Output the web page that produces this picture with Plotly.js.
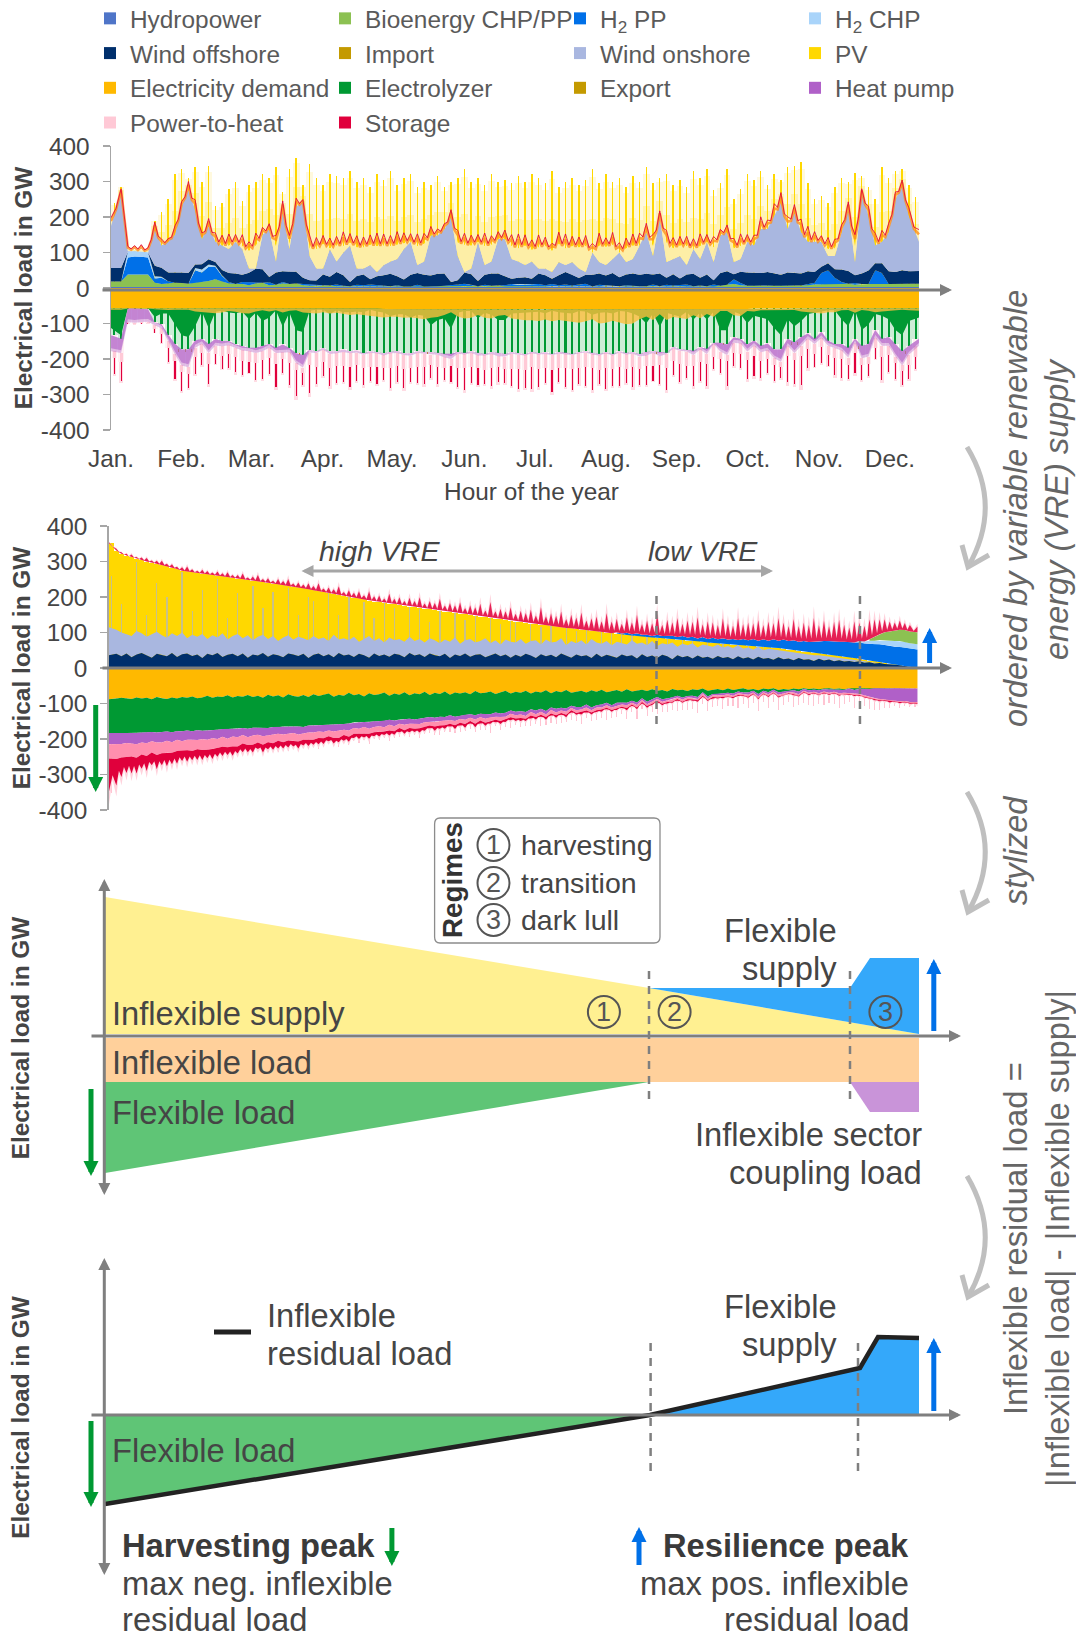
<!DOCTYPE html>
<html><head><meta charset="utf-8">
<script src="https://cdn.plot.ly/plotly-3.0.1.min.js"></script>
<style>html,body{margin:0;padding:0;background:#fff}#c{width:1076px;height:1637px}</style></head>
<body><div id="c"></div>
<script>
// ---------- tick labels ----------
const monthLabels=['Jan.','Feb.','Mar.','Apr.','May.','Jun.','Jul.','Aug.','Sep.','Oct.','Nov.','Dec.'];
const monthHours=[0,765,1523,2293,3046,3831,4597,5367,6136,6906,7676,8445];
const loadTicks=[400,300,200,100,0,-100,-200,-300,-400];
const loadTickText=['400','300','200','100','0','-100','-200','-300','-400'];
// ---------- panel 1: hour of the year, GW ----------
const hydro1=[3,3,2,3,3,3,3,3,3,3,4,4,4,3,3,3,3,3,3,3,3,3,3,3];
const bio1=[15,15,35,36,35,35,12,8,10,12,12,10,14,16,18,22,15,10,8,8,5,10,12,5,6,10,8,10,5,3,2,3,4,2,3,2,1,2,1,1,1,2,2,1,1,2,1,2,2,3,3,1,1,2,1,1,2,2,1,1,1,1,1,0,1,0,1,1,1,0,1,1,1,0,1,2,1,1,2,2,1,2,1,1,2,1,2,1,2,1,3,6,8,5,3,4,3,4,3,4,3,4,4,5,7,9,9,8,8,9,6,8,8,9,9,8,8,9,9,9];
const h2pp1=[0,0,48,50,50,48,12,18,6,0,0,0,34,26,40,34,16,4,0,6,10,3,0,8,0,4,0,0,3,6,4,2,0,5,0,0,5,3,6,4,2,0,3,0,0,4,0,0,0,0,0,5,7,3,0,4,0,0,3,6,4,5,6,7,3,8,4,6,3,7,8,0,5,4,3,0,4,3,0,0,6,0,5,3,4,6,0,3,0,6,0,0,14,6,0,0,0,0,0,0,0,0,0,2,5,30,38,18,6,0,5,0,0,38,30,0,0,0,0,0];
const h2chp1=[0,0,16,15,15,15,6,3,0,0,0,0,6,8,6,4,2];
const off1=[38,38,0,0,0,0,30,25,25,30,30,30,10,15,15,10,15,25,30,20,25,38,38,15,35,30,35,33,18,10,12,30,25,35,30,12,25,30,15,25,30,35,25,20,33,33,33,30,35,35,10,12,32,30,15,28,35,35,25,15,20,20,15,30,28,15,28,35,30,18,25,33,32,28,35,25,30,34,32,35,28,36,20,32,18,28,35,22,33,12,36,38,14,32,38,35,36,38,36,30,38,36,34,37,30,18,20,24,35,36,22,30,38,20,28,36,34,38,35,36];
const windTop1=[175,268,105,100,100,98,165,120,130,150,230,277,220,138,175,130,120,110,130,110,55,55,150,165,75,220,110,230,240,90,55,55,110,75,100,120,55,55,65,45,65,75,82,110,130,65,75,148,148,165,200,90,45,55,130,65,75,138,138,82,75,65,75,55,55,45,73,65,73,55,45,100,73,65,82,100,73,82,120,157,90,200,73,82,90,65,110,82,130,73,148,157,73,82,130,120,166,166,203,240,166,212,157,130,130,130,90,90,157,222,73,268,203,120,130,157,250,287,203,130];
const nightTop1=[0,0,108,108,106,104,125,112,118,0,0,0,125,120,112,118,110,120,105,118,105,120,0,0,118,0,125,0,0,112,110,125,112,120,118,128,115,115,122,118,120,118,122,128,0,118,125,0,0,0,0,128,122,120,0,118,122,0,0,118,112,120,108,115,118,105,125,112,118,115,118,0,120,116,122,0,112,120,0,0,118,0,128,112,120,118,0,118,0,115,0,0,112,118,0,0,0,0,0,0,0,0,0,0,0,0,110,112,0,0,118,0,0,0,0,0,0,0,0,0];
const stor1=[20,10,8,10,14,8,18,16,8,22,12,20,25,15,18,22,25,28,18,28,22,30,18,14,26,22,20,20,8,30,28,20,25,22,35,22,28,25,24,32,28,26,32,24,20,30,25,22,16,14,18,30,28,25,18,32,22,18,22,28,35,26,24,30,22,18,28,35,24,25,26,22,30,22,30,24,25,28,30,22,28,15,30,26,22,24,25,30,18,26,15,18,24,30,18,25,30,22,30,25,30,20,32,38,25,15,28,22,18,18,28,10,24,30,28,22,18,15,20,30];
const pvPeak1=[240,285,0,0,0,0,190,215,250,320,335,310,340,300,345,230,240,280,300,245,290,300,320,310,340,270,335,365,290,350,310,290,320,315,310,330,300,310,285,320,305,330,290,310,320,285,300,290,315,285,300,310,335,300,310,290,320,300,305,295,315,300,320,310,295,330,285,300,310,290,305,335,295,320,300,310,285,315,300,340,295,310,320,290,305,285,330,310,335,275,295,335,250,280,320,305,330,290,320,305,340,345,355,295,250,260,240,285,310,300,325,315,285,250,340,310,330,335,290,255];
const importCols1=[14,23,29,44,58,70,78,92,104,106,113];
const import1=[4,3,3,2,4,3,3,5,4,5,4];
const dem1=[58,57,58,59,58,59,58,58,59,60,60,60,61,60,60,60,60,59,59,58,58,58,58,58];
const fringe1=[3,3,0,0,0,0,3,5,5,4,3,3,8,10,10,12,10,6,8,12,14,8,5,8,5,10,5,4,10,12,14,10,14,12,16,18,16,18,20,22,24,22,22,25,24,25,28,24,22,16,8,20,26,24,16,24,26,18,16,26,28,30,30,32,28,34,30,32,36,38,34,28,40,38,32,38,42,40,28,20,30,14,30,22,24,28,18,26,14,22,6,6,18,20,6,8,5,5,4,4,6,4,8,10,12,14,10,10,5,4,12,4,6,10,8,6,4,3,5,6];
const elSolid1=[55,75,0,0,0,0,25,15,15,45,75,80,50,8,55,8,5,10,12,8,30,12,35,25,5,50,10,60,65,5,3,3,15,5,10,10,8,10,3,8,10,20,15,15,25,15,18,45,30,25,55,10,5,5,25,10,15,30,30,12,10,8,8,6,10,4,8,10,12,5,6,15,10,8,12,5,6,12,20,40,12,50,10,15,20,8,30,10,30,8,60,60,8,15,40,20,25,30,55,75,30,50,35,15,12,8,5,5,30,50,5,60,45,15,20,30,60,75,35,25];
const elDay1=[75,85,0,0,0,3,40,45,75,100,115,115,90,85,100,85,90,90,100,105,110,110,105,100,110,100,110,125,130,115,120,110,120,120,115,120,118,125,120,122,125,120,118,125,125,118,120,120,122,125,125,120,122,118,122,125,120,122,125,120,122,125,118,122,120,125,120,122,125,120,118,122,125,120,125,118,122,120,125,120,118,120,122,105,112,115,118,108,112,95,95,100,80,85,100,90,105,98,115,115,85,95,80,70,85,65,90,100,100,110,85,105,100,60,85,80,100,120,105,85];
const exportCols1=[9,10,11,27,28,47,50,81,90,91,99,101,111,117];
const export1=[6,8,7,6,8,6,7,6,7,8,8,7,8,7];
const hp1=[45,40,38,40,38,35,8,12,18,30,45,50,20,15,25,18,15,12,10,12,10,15,15,10,15,22,12,28,35,8,5,6,8,6,7,6,6,5,5,4,6,5,6,5,7,5,5,8,6,10,15,5,5,5,8,5,6,10,8,5,5,4,5,4,5,4,5,5,4,4,4,5,5,4,5,4,5,5,8,10,5,12,4,6,5,5,12,6,15,4,25,30,15,12,20,15,18,20,25,35,20,30,25,15,15,18,15,12,18,28,12,35,35,22,20,25,35,40,25,20];
const p2h1=[20,25,3,3,3,3,10,15,20,20,18,20,25,25,30,25,28,25,25,30,30,28,25,30,30,20,30,18,15,35,40,35,38,35,40,38,35,38,40,38,35,40,38,40,35,40,38,30,35,30,20,40,38,40,35,40,38,30,35,42,40,42,38,40,38,42,40,38,40,42,40,38,40,42,38,40,42,38,35,30,38,25,40,35,38,40,30,35,28,35,20,18,30,30,25,28,25,25,20,15,28,20,28,30,28,25,25,28,25,20,28,18,20,28,30,25,18,15,28,30];
const st1=[50,60,3,2,2,2,12,30,45,55,60,45,55,40,65,30,40,45,50,45,35,55,60,50,75,45,70,85,40,90,55,45,60,55,50,65,50,55,45,55,40,65,50,60,45,50,55,40,55,40,50,60,70,50,55,45,60,50,45,55,65,55,70,60,50,70,45,60,65,50,60,70,45,65,55,60,45,65,50,60,45,60,70,45,55,40,65,60,70,40,45,80,40,45,60,65,55,45,50,35,85,75,95,60,40,50,35,55,60,45,65,50,40,35,75,55,50,45,45,40];
// ---------- panel 2: hours ordered by VRE supply, GW ----------
const vre2=[352,331,322,316,312,308,304,300,297,294,290,287,283,279,274,272,270,268,266,264,262,260,258,256,254,252,250,248,246,244,242,240,238,236,234,231,229,227,225,222,219,217,214,211,209,206,203,201,198,196,193,190,187,185,183,181,179,177,175,173,171,169,167,165,163,161,159,157,155,153,151,149,147,145,143,141,139,137,135,133,131,129,127,125,124,122,120,118,117,115,113,112,110,108,107,105,103,102,100,98,97,95,93,92,90,89,87,86,85,84,82,81,80,79,77,76,75,74,72,71,70,69,68,66,65,64,63,62,60,59,58,57,56,54,52,50,48,46,45,43,41,40,38,36,34,32,30,28,26,23,21,19,17,15,12,10,8,6,3,0];
const off2=[36,40,33,41,30,38,42,35,29,40,37,33,42,31,39,41,34,38,28,40,36,42,31,37,40,33,41,29,38,35,42,32,39,36,30,41,38,34,40,28,37,41,33,39,30,42,35,38,31,40,36,29,41,34,38,32,40,37,30,42,35,39,31,41,36,33,40,28,38,34,41,32,37,39,30,36,41,33,38,29,37,32,40,35,28,39,33,37,30,41,35,29,38,33,36,28,40,31,37,34,29,38,33,36,27,39,31,35,28,37,33,25,36,30,34,27,35,29,32,26,34,28,31,25,33,27,30,24,32,26,28,23,30,25,27,22,28,23,25,20,26,21,24,19,22,18,20,17,19,15,16,13,14,11,11,9,8,6,4,0];
const onTop2=[115,108,100,96,90,104,98,88,95,102,92,85,98,90,100,84,94,88,96,82,92,86,98,80,90,96,84,92,78,88,94,82,90,76,86,92,80,88,84,78,90,82,86,76,94,80,84,78,88,74,82,90,76,84,72,86,78,82,74,88,76,82,72,84,78,70,80,74,86,68,78,82,72,76,84,70,78,66,80,74,72,82,68,76,78,66,80,72,74,84,64,76,70,78,66,82,72,68,76,64,74,70,66,78,68,72,64,76,62,70,66,72,60,68,64,70,58,66,62,60,66,58,62,56,64,55,58,52,60,50,54,52,50,47,46,44,42,40,38,36,36,34,32,30,28,26,24,22,20,18,16,14,12,10,8,6,5,3,2,0];
const onSpike2=[260,0,180,0,0,300,0,150,0,240,0,200,0,0,270,0,160,0,220,0,0,250,0,140,0,210,0,0,230,0,170,0,215,0,0,225,0,150,0,200,190,0,0,210,0,150,0,200,0,0,185,0,140,0,190,0,170,0,0,175,0,165,0,130,0,170,0,0,160,0,135,0,155,0,0,150,0,125,0,145,130,0,0,135,0,115,0,125,0,0,120,0,105,0,115,0,0,110,0,100,0,105,0,95,0,0,100,0,85,0,90,0,0,85,0,80,0,0,78,0,0,72,0,0,66,0,62,0,0,58];
const stor2=[3,5,4,6,8,5,7,10,6,8,12,7,9,6,10,14,8,6,11,9,7,12,9,14,8,10,16,7,12,18,9,13,8,15,11,20,9,14,10,17,12,22,10,16,13,24,11,18,14,20,12,26,15,19,13,28,16,22,14,25,18,30,15,24,20,34,17,26,22,32,18,28,24,36,19,45,21,30,25,38,22,32,28,40,24,50,26,36,30,44,25,38,32,48,27,35,42,30,55,33,38,28,44,34,52,30,40,36,58,32,46,38,54,35,48,42,60,36,50,44,40,56,46,38,62,42,50,44,58,40,54,46,64,48,42,60,44,52,48,66,46,58,42,54,62,48,40,60,52,44,56,50,42,36,28,22,26,20,18,16];
const h2pp2=[4,2,6,3,8,5,7,4,9,6,8,10,7,11,9,12,8,13,10,14,11,15,12,16,14,18,15,20,17,22,19,24,21,26,24,28,26,30,28,32,34,36,38,40,40,42,44,44,46,46,48,48,50,50,50,50,52,52,52,52];
const h2chp2=[4,6,8,10,12,14,15,16,16,16,15,15];
const bio2=[4,10,16,22,26,30,32,33,33,34];
const dem2=[88,86,84,85,87,83,86,84,88,82,85,87,83,86,82,84,80,85,83,78,84,80,82,77,83,79,81,76,82,78,84,75,80,77,83,74,79,81,76,82,74,79,76,72,81,75,78,70,77,73,80,71,76,74,69,78,72,75,68,77,71,74,67,76,70,73,66,75,69,72,68,74,65,71,70,66,73,68,64,72,67,70,64,72,66,69,63,71,65,68,62,70,66,64,69,63,67,61,68,65,62,67,60,66,63,61,65,60,64,62,66,59,63,61,65,60,62,58,64,61,59,63,58,62,60,57,61,59,63,58,60,57,62,59,61,58,60,57,59,58,60,58,57,59,58,60,57,59,58,57,59,57,58,57,58,57,58,57,58,58];
const el2=[95,98,100,98,96,100,96,98,92,100,95,92,98,92,96,92,98,90,94,98,90,94,90,96,88,92,88,95,86,90,84,94,86,90,82,92,86,84,90,80,88,82,84,88,78,84,80,86,76,80,72,82,74,76,80,68,76,70,76,66,74,68,74,62,70,64,72,58,68,62,64,56,68,58,60,64,52,60,62,48,56,52,60,44,54,46,58,40,50,44,52,36,44,46,34,48,38,42,30,40,36,30,38,26,34,24,30,28,18,26,20,24,15,22,14,18,20,10,16,12,14,8,12,10,6,12,8,5,10,6,8,4,6,8,3,5,6,2,4,3,3,2,4,1,3,2,1,3,1,2,0,0,0,0,0,0,0,0,0,0];
const hp2=[32,30,30,28,30,32,28,30,26,28,30,26,28,24,28,26,24,28,24,26,24,26,22,26,22,24,20,24,22,20,24,20,22,18,22,20,18,22,18,20,20,18,20,16,20,18,16,20,16,18,14,18,16,14,18,14,16,12,16,14,12,16,12,14,12,14,10,14,12,10,14,10,12,10,13,9,12,10,11,9,10,9,11,8,10,8,10,7,10,8,9,7,9,7,8,8,6,8,7,6,8,6,7,6,7,5,7,6,5,7,5,6,5,6,4,6,5,4,6,4,5,6,4,6,5,4,6,5,7,4,6,5,7,5,4,6,8,5,7,6,8,6,9,7,10,8,12,10,14,18,22,28,30,32,34,35,36,36,38,38];
const p2h2=[40,42,38,40,36,38,34,36,32,35,30,34,30,32,28,30,32,26,30,28,30,26,28,24,28,26,24,22,26,22,24,20,24,20,22,18,22,20,18,20,20,18,18,16,18,20,15,18,16,14,18,14,15,16,12,16,14,12,15,12,14,12,14,10,13,11,13,10,12,10,12,9,12,9,11,10,9,11,8,10,9,10,8,10,8,9,7,10,8,7,9,6,8,7,9,6,8,6,7,7,7,6,8,5,7,6,5,7,5,6,5,6,4,6,5,5,4,6,4,5,5,4,6,4,5,4,6,3,5,4,5,3,5,4,3,5,4,3,4,3,4,3,4,3,4,3,3,4,3,4,3,3,3,2,2,2,2,2,2,2];
const st2=[95,75,55,45,48,44,40,42,36,40,34,38,32,36,28,32,26,30,28,24,28,24,26,22,26,20,24,20,22,18,22,20,18,22,18,20,16,20,16,18,14,18,16,14,16,12,16,14,12,15,12,14,11,13,10,14,10,12,10,12,9,12,10,8,12,9,10,8,11,8,10,7,10,8,9,8,7,9,7,8,7,8,6,8,7,5,8,6,7,5,7,6,5,7,5,6,5,6,4,5,5,4,6,3,5,4,5,3,5,4,4,3,5,3,4,3,4,3,3,4,3,4,2,3,3,2,3,2,3,2,3,2,3,2,2,3,2,2,3,2,2,3,2,2,3,2,2,3,2,2,2,3,3,2,3,2,3,2,3,3];
const regimeHours2=[5933,8137];
// ---------- panel 3: stylized regimes ----------
const supplyX3=[0,544,814,0], supplyY3=[139,48,2,2];
const flexSupplyX3=[544,745,765,814,814,544], flexSupplyY3=[48,48,78,78,2,48];
const inflexLoadX3=[0,814,814,0], inflexLoadY3=[-2,-2,-46,-46];
const flexLoadX3=[0,544,0], flexLoadY3=[-46,-46,-137];
const couplingX3=[745,814,814,765], couplingY3=[-46,-46,-76,-76];
const regimeX3=[544,745];
// ---------- panel 4: inflexible residual load ----------
const flexLoadX4=[0,545,0], flexLoadY4=[0,0,-88];
const flexSupplyX4=[545,755,773,814,814], flexSupplyY4=[0,46,77,77,0];
const residualX4=[0,545,755,773,814], residualY4=[-89,0,47,78,77];
const regimeX4=[545.6,753];

const W=1076,H=1637,FONT='Liberation Sans',TXT='#454545',GRAY='#7F7F7F';
const C={hydro:'#4F75C8',bio:'#8CC152',h2pp:'#0070E8',chp:'#A9D4FA',off:'#002F6C',imp:'#C49A00',on:'#A9B7E0',pv:'#FFD800',dem:'#FFB900',el:'#009933',exp:'#C49A00',hp:'#B060C8',p2h:'#FFC9D6',st:'#E0003C',green:'#009933',blue:'#0070E8'};
const X=p=>p/W,Y=p=>1-p/H;
const colH1=8760/windTop1.length,colH2=8760/vre2.length;
const axn=n=>n>1?n:'';
const bar=(n,x,y,base,width,color,name,show)=>({type:'bar',xaxis:'x'+axn(n),yaxis:'y'+axn(n),x,y,base,width,name:name||'',showlegend:!!show,hoverinfo:'skip',marker:{color,line:{width:0}}});
const xs1=windTop1.map((_,i)=>(i+.5)*colH1),xs2=vre2.map((_,i)=>(i+.5)*colH2);
const edge=(xs,first,last)=>xs.map((v,i)=>i===0?first:(i===xs.length-1?last:v));
const xe1=edge(xs1,0,8760),xe2=edge(xs2,0,8760);
const area=(n,x,lo,hi,color)=>({type:'scatter',mode:'lines',xaxis:'x'+axn(n),yaxis:'y'+axn(n),x:x.concat(x.slice().reverse()),y:hi.concat(lo.slice().reverse()),fill:'toself',fillcolor:color,line:{width:0},showlegend:false,hoverinfo:'skip'});
const line=(n,x,y,color,width)=>({type:'scatter',mode:'lines',xaxis:'x'+axn(n),yaxis:'y'+axn(n),x,y,line:{color,width},showlegend:false,hoverinfo:'skip'});
// daily sawtooth: each column peaks at its value and falls back to the level it sits on
const zig=(xs,low,top)=>{const x=[],y=[];xs.forEach((v,i)=>{x.push(v);y.push(top[i]);if(i<xs.length-1){x.push((v+xs[i+1])/2);y.push((low[i]+low[i+1])/2);}});return {x,y};};
const zigLine=(n,xs,low,top,color,width)=>{const z=zig(xs,low,top);return line(n,z.x,z.y,color,width);};
const zigArea=(n,xs,floor,low,top,color)=>{const z=zig(xs,low,top);return {type:'scatter',mode:'lines',xaxis:'x'+axn(n),yaxis:'y'+axn(n),x:z.x.concat(xs.slice().reverse()),y:z.y.concat(floor.slice().reverse()),fill:'toself',fillcolor:color,line:{width:0},showlegend:false,hoverinfo:'skip'};};
const neg=a=>a.map(v=>-v);
const scale=(a,k)=>a.map(v=>v*k);
const zeros=xs1.map(()=>0);
const traces=[];
const hy1c=xs1.map((_,i)=>hydro1[Math.floor(i/5)]);
const plus=(a,b)=>a.map((v,i)=>v+(b[i]||0));
const cBio=plus(hy1c,bio1),cH2=plus(cBio,h2pp1),cChp=plus(cH2,h2chp1),cOff=plus(cChp,off1);
const onTop1=windTop1.map((t,i)=>Math.max(t,cOff[i]));
const lowTop=windTop1.map((t,i)=>Math.max(t,nightTop1[i],cOff[i]));
const demC=xs1.map((_,i)=>dem1[Math.floor(i/5)]);
const b1=plus(demC,elDay1),b2=plus(b1,hp1),b3=plus(b2,p2h1);
const tiny=1;
// panel 1: legend order, with areas drawn on top
traces.push(bar(1,xs1,hy1c,zeros,tiny,C.hydro,'Hydropower',true));
traces.push(bar(1,xs1,bio1,hy1c,tiny,C.bio,'Bioenergy CHP/PP',true));
traces.push(bar(1,xs1,h2pp1,cBio,tiny,C.h2pp,'H<sub>2</sub> PP',true));
traces.push(bar(1,xs1.slice(0,h2chp1.length),h2chp1,cH2,tiny,C.chp,'H<sub>2</sub> CHP',true));
traces.push(bar(1,xs1,off1,cChp,tiny,C.off,'Wind offshore',true));
traces.push(bar(1,importCols1.map(i=>xs1[i]),import1,importCols1.map(i=>cOff[i]),colH1*.6,C.imp,'Import',true));
traces.push(bar(1,xs1,onTop1.map((t,i)=>t-cOff[i]),cOff,tiny,C.on,'Wind onshore',true));
traces.push(bar(1,xs1,pvPeak1.map((p,i)=>p?lowTop[i]+(p-lowTop[i])*.9:0),zeros,colH1,'#FFF9DE'));
traces.push(bar(1,xs1,pvPeak1.map((p,i)=>p?lowTop[i]+(p-lowTop[i])*.4:0),zeros,colH1,'#FFF3B4'));
traces.push(bar(1,xs1,pvPeak1,zeros,colH1*.22,C.pv,'PV',true));
traces.push(bar(1,xs1,neg(demC),zeros,tiny,C.dem,'Electricity demand',true));
traces.push(bar(1,xs1,neg(b1),zeros,colH1,'rgba(130,210,155,.4)'));
traces.push(bar(1,xs1,neg(b1),zeros,colH1*.3,C.el,'Electrolyzer',true));
traces.push(bar(1,exportCols1.map(i=>xs1[i]),neg(export1),exportCols1.map(i=>-b1[i]),colH1,C.exp,'Export',true));
traces.push(bar(1,xs1,neg(hp1),neg(b1),tiny,C.hp,'Heat pump',true));
traces.push(bar(1,xs1,neg(plus(hp1,p2h1)),neg(b1),colH1*.85,'#FFF0F3'));
traces.push(bar(1,xs1,neg(p2h1),neg(b2),colH1*.45,C.p2h,'Power-to-heat',true));
traces.push(bar(1,xs1,neg(st1),neg(b3),colH1*.5,'#FFDCE4'));
traces.push(bar(1,xs1,scale(neg(st1),.88),neg(b3),colH1*.16,C.st,'Storage',true));
traces.push(area(1,xe1,zeros,hy1c,C.hydro),area(1,xe1,hy1c,cBio,C.bio),area(1,xe1,cBio,cH2,C.h2pp),area(1,xe1,cH2,cChp,C.chp),area(1,xe1,cChp,cOff,C.off),area(1,xe1,cOff,onTop1,C.on));
traces.push(area(1,xe1,onTop1,lowTop,'#FDEEA6'));
traces.push(zigLine(1,xe1,lowTop,plus(lowTop,scale(stor1,.7)),'rgba(255,140,25,.78)',2.6));
traces.push(zigLine(1,xe1,plus(lowTop,scale(stor1,.2)),plus(lowTop,scale(stor1,1.15)),'rgba(224,0,60,.85)',1));
traces.push(area(1,xe1,zeros,neg(demC),C.dem));
traces.push(area(1,xe1,neg(demC),neg(plus(demC,elSolid1)),C.el));
traces.push(area(1,xe1,neg(demC),neg(plus(demC,fringe1)),'rgba(255,190,60,.8)'));
traces.push(area(1,xe1,neg(b1),neg(b2),'rgba(176,96,200,.38)'));
traces.push(area(1,xe1,neg(b1),neg(plus(b1,hp1.map(v=>Math.max(0,v-8)))),'rgba(176,96,200,.6)'));
// panel 2
const offC2=off2.map((v,i)=>Math.min(v,vre2[i]));
const onC2=onTop2.map((v,i)=>Math.min(v,vre2[i]));
const z2=xs2.map(()=>0);
const n1=dem2,n2=plus(n1,el2),n3=plus(n2,hp2),n4=plus(n3,p2h2),n5=plus(n4,st2);
traces.push(bar(2,xs2,vre2,z2,colH2,C.pv));
traces.push(bar(2,onSpike2.map((_,i)=>xs2[i]),onSpike2.map((v,i)=>Math.min(v,vre2[i])),z2.slice(0,onSpike2.length),colH2*.26,'rgba(170,182,210,.65)'));
traces.push(bar(2,xs2,n5.map((v,i)=>-(v+stor2[i]*.55)),z2,colH2*.22,'#FFC4D2'));
traces.push(area(2,xe2,offC2,onC2,C.on),area(2,xe2,z2,offC2,C.off));
const sup2=vre2.slice();
const stackSlice=(arr,color)=>{const st=vre2.length-arr.length;const x=xe2.slice(st);const base=arr.map((_,i)=>sup2[st+i]);arr.forEach((v,i)=>sup2[st+i]+=v);const top=arr.map((_,i)=>sup2[st+i]);traces.push(area(2,x,base,top,color));};
stackSlice(h2pp2,C.h2pp);stackSlice(h2chp2,C.chp);stackSlice(bio2,C.bio);
traces.push(zigArea(2,xe2,sup2,plus(sup2,scale(stor2,.3)),plus(sup2,scale(stor2,1.5)),'#FFD2DC'));
traces.push(zigArea(2,xe2,sup2,plus(sup2,scale(stor2,.15)),plus(sup2,stor2),'rgba(224,0,60,.85)'));
traces.push(area(2,xe2,z2,neg(n1),C.dem),area(2,xe2,neg(n1),neg(n2),C.el),area(2,xe2,neg(n2),neg(n3),C.hp),area(2,xe2,neg(n3),neg(n4),'#FF8FAE'));
traces.push(zigArea(2,xe2,neg(n4),neg(plus(n4,scale(st2,.7))),n4.map((v,i)=>-(v+st2[i]*1.35+5)),'#FFD2DC'));
traces.push(zigArea(2,xe2,neg(n4),neg(plus(n4,scale(st2,.55))),neg(n5),C.st));
// panels 3 and 4
const poly=(n,x,y,color)=>({type:'scatter',mode:'lines',xaxis:'x'+n,yaxis:'y'+n,x,y,fill:'toself',fillcolor:color,line:{width:0},showlegend:false,hoverinfo:'skip'});
traces.push(poly(3,supplyX3,supplyY3,'#FFF091'),poly(3,flexSupplyX3,flexSupplyY3,'#34A8FA'),poly(3,inflexLoadX3,inflexLoadY3,'#FFD09B'),poly(3,flexLoadX3,flexLoadY3,'#5FC576'),poly(3,couplingX3,couplingY3,'#C994D9'));
traces.push(poly(4,flexLoadX4,flexLoadY4,'#5FC576'),poly(4,flexSupplyX4,flexSupplyY4,'#34A8FA'));
traces.push(line(4,residualX4,residualY4,'#222222',4.5));

// layout helpers
const dom=(a,b)=>[1-b/H,1-a/H];
const tf=(s,c)=>({family:FONT,size:s,color:c||TXT});
const loadAxis=(n,top,bot,standoff)=>({domain:dom(top,bot),range:[-400,400],anchor:'x'+axn(n),tickmode:'array',tickvals:loadTicks,ticktext:loadTickText,ticks:'outside',ticklen:7,tickcolor:'#A6A6A6',tickwidth:1.5,ticklabelstandoff:8,tickfont:tf(24.4),showgrid:false,zeroline:false,showline:true,linecolor:'#A6A6A6',linewidth:1.5,title:{text:'<b>Electrical load in GW</b>',font:tf(24.4),standoff}});
const plainAxis=(n,top,bot,range,standoff)=>({domain:dom(top,bot),range,anchor:'x'+n,showgrid:false,zeroline:false,showline:false,ticks:'',showticklabels:false,title:{text:'<b>Electrical load in GW</b>',font:tf(24.4),standoff}});
const plainX=(n,l,r,range)=>({domain:[X(l),X(r)],range,anchor:'y'+n,showgrid:false,zeroline:false,showline:false,ticks:'',showticklabels:false});
const ann=[];
const T=(text,x,y,size,o={})=>ann.push({text,x:X(x),y:Y(y),xref:'paper',yref:'paper',showarrow:false,xanchor:o.a||'left',yanchor:'middle',textangle:o.r||0,font:{family:FONT,size,color:o.c||TXT}});
const arrow=(x0,y0,x1,y1,color,w,size,both)=>ann.push({x:X(x1),y:Y(y1),xref:'paper',yref:'paper',ax:x0-x1,ay:y0-y1,axref:'pixel',ayref:'pixel',font:{size:1},showarrow:true,arrowhead:2,startarrowhead:2,arrowside:both?'end+start':'end',arrowsize:size,startarrowsize:size,arrowwidth:w,arrowcolor:color,standoff:0,startstandoff:0});
arrow(101,290,952,290,GRAY,3,.8);
arrow(101,668,952,668,GRAY,3,.8);
arrow(90,1036,961,1036,GRAY,3,.8);
arrow(104.3,1197,104.3,879,GRAY,3,.8,true);
arrow(90,1415,961,1415,GRAY,3,.8);
arrow(104.3,1577,104.3,1258,GRAY,3,.8,true);
arrow(300,571,773,571,'#A6A6A6',3,.8,true);
arrow(95.7,703,95.7,792,C.green,5,.6);arrow(929.6,665,929.6,628,C.blue,5,.6);
arrow(91,1087,91,1176,C.green,5,.6);arrow(933.8,1033,933.8,959,C.blue,5,.6);
arrow(91,1419,91,1507,C.green,5,.6);arrow(933.8,1413,933.8,1338,C.blue,5,.6);
arrow(391.9,1526,391.9,1566,C.green,5,.6);arrow(639,1567,639,1527,C.blue,5,.6);
const BIG=32.7;
T('<i>high VRE</i>',379,551,28.5,{a:'center'});T('<i>low VRE</i>',703,551,28.5,{a:'center'});
T('Inflexible supply',110,1013,BIG);T('Inflexible load',110,1062,BIG);T('Flexible load',110,1112,BIG);
T('Flexible',839,930,BIG,{a:'right'});T('supply',839,968,BIG,{a:'right'});
T('Inflexible sector',924,1134,BIG,{a:'right'});T('coupling load',924,1172,BIG,{a:'right'});
T('<b>Regimes</b>',453,880,27.8,{a:'center',r:-90,c:'#333333'});
T('harvesting',518.5,845,28.5);T('transition',518.5,883,28.5);T('dark lull',518.5,920,28.5);
T('Inflexible',265,1315,BIG);T('residual load',265,1353,BIG);T('Flexible load',110,1450,BIG);
T('Flexible',839,1306,BIG,{a:'right'});T('supply',839,1344,BIG,{a:'right'});
T('<b>Harvesting peak</b>',120,1545,BIG,{c:'#3A3A3A'});T('max neg. inflexible',120,1583,BIG);T('residual load',120,1619,BIG);
T('<b>Resilience peak</b>',911,1545,BIG,{a:'right',c:'#3A3A3A'});T('max pos. inflexible',911,1583,BIG,{a:'right'});T('residual load',911,1619,BIG,{a:'right'});
const SIDE='#666666';
T('<i>ordered by variable renewable</i>',1016,509,32.5,{a:'center',r:-90,c:SIDE});T('<i>energy (VRE) supply</i>',1057,509,32.5,{a:'center',r:-90,c:SIDE});
T('<i>stylized</i>',1016,851,32.5,{a:'center',r:-90,c:SIDE});
T('Inflexible residual load =',1015,1239,32.8,{a:'center',r:-90,c:SIDE});T('|Inflexible load| - |Inflexible supply|',1057,1239,32.8,{a:'center',r:-90,c:SIDE});
const circles=[[493.5,845,'1'],[493.5,883,'2'],[493.5,920,'3'],[603.9,1012,'1'],[674.6,1012,'2'],[885.4,1012,'3']];
circles.forEach(c=>T(c[2],c[0],c[1],27,{a:'center',c:'#555555'}));
const shapes=[];
const dash=(xr,yr,x,y0,y1)=>shapes.push({type:'line',xref:xr,yref:yr,x0:x,x1:x,y0,y1,line:{color:GRAY,width:2.5,dash:'8px,7px'}});
regimeHours2.forEach(v=>dash('x2','y2',v,203,-177));
regimeX3.forEach(v=>dash('x3','y3',v,65,-70));
regimeX4.forEach(v=>dash('x4','y4',v,72,-63));
circles.forEach(c=>shapes.push({type:'circle',xref:'paper',yref:'paper',x0:X(c[0]-16),x1:X(c[0]+16),y0:Y(c[1]-16),y1:Y(c[1]+16),line:{color:'#555555',width:2}}));
const P=(x,y)=>X(x)+','+Y(y);
shapes.push({type:'path',xref:'paper',yref:'paper',path:`M${P(440,818)}L${P(654,818)}Q${P(660,818)} ${P(660,824)}L${P(660,937)}Q${P(660,943)} ${P(654,943)}L${P(440,943)}Q${P(434.6,943)} ${P(434.6,937)}L${P(434.6,824)}Q${P(434.6,818)} ${P(440,818)}Z`,line:{color:'#8C8C8C',width:1.3}});
[[447,506,567],[792,851,912],[1176,1237,1297]].forEach(a=>{const s=a[0],m=a[1],t=a[2];
 shapes.push({type:'path',xref:'paper',yref:'paper',path:`M${P(967,s)}Q${P(1003,m)} ${P(968,t)}`,line:{color:'#BFBFBF',width:5}});
 shapes.push({type:'path',xref:'paper',yref:'paper',path:`M${P(962,t-22)}L${P(968,t)}L${P(989,t-12)}`,line:{color:'#BFBFBF',width:5}});
});
shapes.push({type:'line',xref:'paper',yref:'paper',x0:X(214),x1:X(251),y0:Y(1332),y1:Y(1332),line:{color:'#222222',width:5}});

const layout={width:W,height:H,margin:{l:0,r:0,t:0,b:0,autoexpand:false},paper_bgcolor:'#fff',plot_bgcolor:'rgba(0,0,0,0)',barmode:'overlay',bargap:0,hovermode:false,
 font:{family:FONT},
 legend:{orientation:'h',x:X(90),y:Y(-4),xanchor:'left',yanchor:'top',entrywidth:190,entrywidthmode:'pixels',traceorder:'normal',font:{family:FONT,size:24.4,color:'#5A5A5A'},bgcolor:'rgba(0,0,0,0)'},
 xaxis:{domain:[X(111),X(952)],range:[0,9118],anchor:'y',showgrid:false,zeroline:false,showline:false,tickmode:'array',tickvals:monthHours,ticktext:monthLabels,ticks:'outside',ticklen:7,tickcolor:'rgba(0,0,0,0)',tickfont:tf(24.4),title:{text:'Hour of the year',font:tf(24.4),standoff:11}},
 yaxis:loadAxis(1,146,430,1),
 xaxis2:plainX(2,108.8,952,[0,9134]),
 yaxis2:loadAxis(2,526,810,1),
 xaxis3:plainX(3,105,961,[0,856]),
 yaxis3:plainAxis(3,879,1197,[-161,157],67),
 xaxis4:plainX(4,105,961,[0,856]),
 yaxis4:plainAxis(4,1258,1577,[-162,157],67),
 annotations:ann,shapes};
Plotly.newPlot('c',traces,layout,{displayModeBar:false,staticPlot:true});
</script></body></html>
